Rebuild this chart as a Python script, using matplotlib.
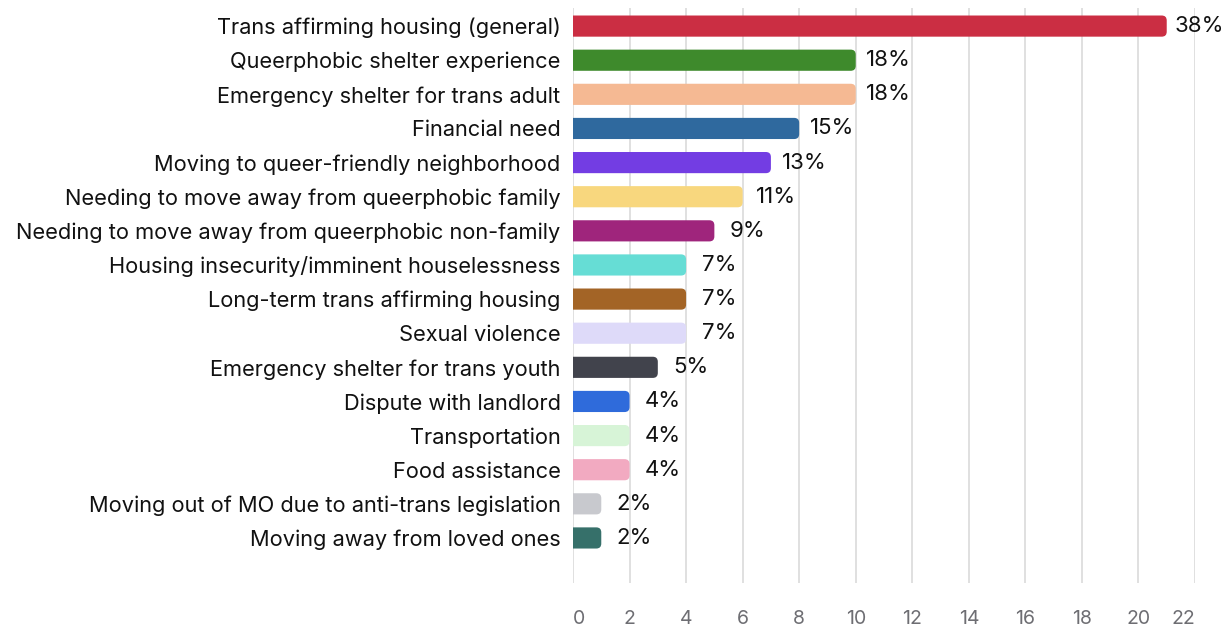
import matplotlib
matplotlib.use("Agg")
import matplotlib.pyplot as plt
from matplotlib.patches import FancyBboxPatch

plt.rcParams['font.family'] = ['Inter', 'DejaVu Sans']

# Data
categories = [
    "Trans affirming housing (general)",
    "Queerphobic shelter experience",
    "Emergency shelter for trans adult",
    "Financial need",
    "Moving to queer-friendly neighborhood",
    "Needing to move away from queerphobic family",
    "Needing to move away from queerphobic non-family",
    "Housing insecurity/imminent houselessness",
    "Long-term trans affirming housing",
    "Sexual violence",
    "Emergency shelter for trans youth",
    "Dispute with landlord",
    "Transportation",
    "Food assistance",
    "Moving out of MO due to anti-trans legislation",
    "Moving away from loved ones",
]
counts = [21, 10, 10, 8, 7, 6, 5, 4, 4, 4, 3, 2, 2, 2, 1, 1]
pct_labels = ["38%", "18%", "18%", "15%", "13%", "11%", "9%", "7%",
              "7%", "7%", "5%", "4%", "4%", "4%", "2%", "2%"]
colors = ["#cb2e43", "#3e8a2c", "#f5b993", "#2f699e", "#733de3", "#f8d77e",
          "#9f257c", "#66ddd5", "#a36426", "#dedaf9", "#41434c", "#2f6bdb",
          "#d7f4d7", "#f2aac1", "#c8c9ce", "#36706a"]
xticks = list(range(0, 23, 2))

fig = plt.figure(figsize=(12.3, 6.29), dpi=100)
ax = fig.add_axes([573 / 1230, 1 - 583 / 629, 622 / 1230, 575 / 629])

bar_h = 0.62
rad = 0.177          # rounding in x units (~5 px)
asp = 28.27 / 34.13  # px per x-unit / px per y-unit

for i, (cnt, col) in enumerate(zip(counts, colors)):
    # start the box left of zero so only the right end looks rounded
    box = FancyBboxPatch((-0.4, i - bar_h / 2), cnt + 0.4, bar_h,
                         boxstyle=f"round,pad=0,rounding_size={rad}",
                         mutation_aspect=asp, facecolor=col,
                         edgecolor="none", zorder=3)
    ax.add_patch(box)
    ax.annotate(pct_labels[i], xy=(cnt, i), xytext=(33, 0),
                textcoords="offset pixels", ha="center", va="center",
                fontsize=16, color="#111111", annotation_clip=False)

ax.set_xlim(0, 22)
ax.set_ylim(16.32, -0.53)
ax.set_yticks(range(len(categories)))
ax.set_yticklabels(categories, fontsize=15.7, color="#111111")
ax.set_xticks(xticks)
ax.set_xticklabels([str(t) for t in xticks], fontsize=14, color="#6e6e73")
ticklabs = ax.get_xticklabels()
ticklabs[0].set_horizontalalignment("left")
ticklabs[-1].set_horizontalalignment("right")

ax.tick_params(axis="y", length=0, pad=9)
ax.tick_params(axis="x", length=0, pad=19.5)
ax.grid(axis="x", color="#dddddd", linewidth=1.3, zorder=0)
ax.set_axisbelow(True)
for s in ax.spines.values():
    s.set_visible(False)

fig.savefig("out.png", dpi=100)
